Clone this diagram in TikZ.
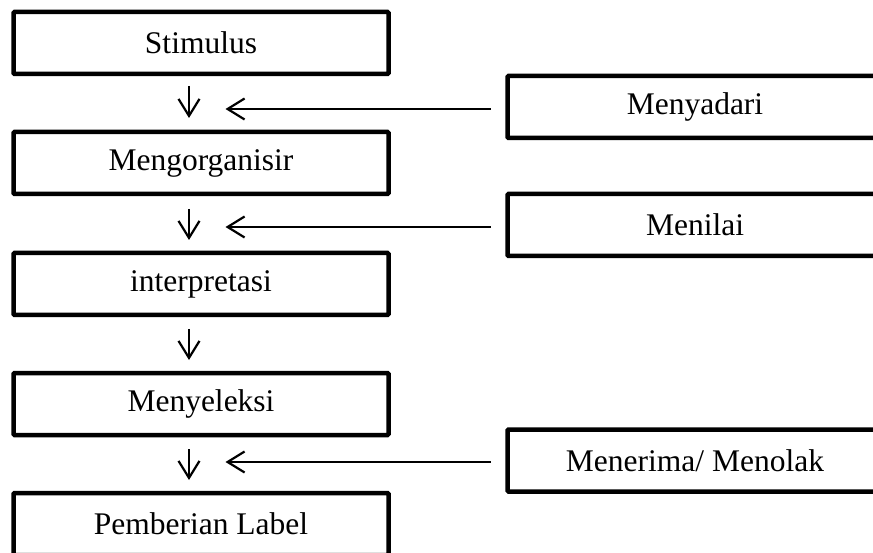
\documentclass[tikz,border=0pt]{standalone}
\usepackage{fontspec}
\setmainfont{Liberation Serif}
\usetikzlibrary{arrows.meta}
\begin{document}
\begin{tikzpicture}[x=1pt,y=-1pt,
  box/.style={draw, line width=4.5pt, rounded corners=1pt, outer sep=0pt,
    minimum width=375pt, minimum height=62pt, inner sep=0pt,
    font=\fontsize{31.5}{36}\selectfont},
  arr/.style={line width=2.2pt, -{Straight Barb[length=17pt,width=21pt,line width=2.2pt]}}]
\useasboundingbox (0,0) rectangle (873,553);
\fill[white] (0,0) rectangle (873,553);
% left column
\node[box] (b1) at (201,43) {Stimulus};
\node[box] (b2) at (201,163) {Mengorganisir};
\node[box] (b3) at (201,284) {interpretasi};
\node[box] (b4) at (201,404) {Menyeleksi};
\node[box] (b5) at (201,524) {Pemberian Label};
% right column
\node[box] (r1) at (695,107) {Menyadari};
\node[box] (r2) at (695,225) {Menilai};
\node[box] (r3) at (695,460.5) {Menerima/ Menolak};
% down arrows
\draw[arr] ([xshift=-12pt,yshift=-12pt]b1.south) -- ([xshift=-12pt,yshift=14pt]b2.north);
\draw[arr] ([xshift=-12pt,yshift=-15pt]b2.south) -- ([xshift=-12pt,yshift=13pt]b3.north);
\draw[arr] ([xshift=-12pt,yshift=-14pt]b3.south) -- ([xshift=-12pt,yshift=13pt]b4.north);
\draw[arr] ([xshift=-12pt,yshift=-14pt]b4.south) -- ([xshift=-12pt,yshift=13pt]b5.north);
% side arrows
\draw[arr] ([xshift=-17pt,yshift=-2pt]r1.west) -- ++(-265,0);
\draw[arr] ([xshift=-17pt,yshift=-2pt]r2.west) -- ++(-265,0);
\draw[arr] ([xshift=-17pt,yshift=-1.5pt]r3.west) -- ++(-265,0);
\end{tikzpicture}
\end{document}
